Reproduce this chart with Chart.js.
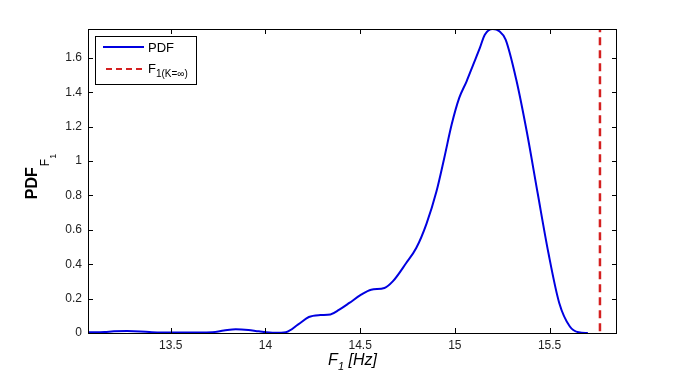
<!DOCTYPE html>
<html>
<head>
<meta charset="utf-8">
<script src="https://cdn.jsdelivr.net/npm/chart.js@4/dist/chart.umd.min.js"></script>
<style>
    html, body { margin: 0; padding: 0; background: #fff; }
    #wrap { width: 683px; height: 384px; }
</style>
</head>
<body>
<div id="wrap"><canvas id="myChart"></canvas></div>
<script>
const freqs = [13.063, 13.15, 13.2, 13.27, 13.34, 13.4, 13.55, 13.72, 13.78, 13.843, 13.91, 13.965,
    14.05, 14.107, 14.173, 14.229, 14.29, 14.343, 14.39, 14.443, 14.505, 14.558, 14.628, 14.672,
    14.743, 14.796, 14.85, 14.903, 14.944, 14.983, 15.023, 15.062, 15.097, 15.132, 15.158, 15.2,
    15.235, 15.268, 15.324, 15.381, 15.437, 15.494, 15.551, 15.607, 15.654, 15.702];
const pdfValues = [0.004, 0.006, 0.01, 0.011, 0.009, 0.005, 0.003, 0.005, 0.014, 0.022, 0.018, 0.01,
    0.002, 0.005, 0.05, 0.093, 0.104, 0.108, 0.136, 0.175, 0.223, 0.252, 0.262, 0.3,
    0.407, 0.494, 0.635, 0.824, 1.018, 1.212, 1.367, 1.464, 1.561, 1.658, 1.735, 1.768,
    1.755, 1.706, 1.474, 1.163, 0.814, 0.465, 0.175, 0.038, 0.004, 0];
const limitFreq = 15.766;
const xTicks = [13.5, 14, 14.5, 15, 15.5];
const yTicks = [0, 0.2, 0.4, 0.6, 0.8, 1, 1.2, 1.4, 1.6];
const seriesNames = ["PDF", "F"];

const pdfPoints = freqs.map((f, i) => ({ x: f, y: pdfValues[i] }));

// frame, inward ticks, legend and axis titles (subscripts need manual text)
const matlabLook = {
    id: "matlabLook",
    afterDraw(chart) {
        const { ctx, chartArea: a, scales: { x, y } } = chart;
        ctx.save();
        ctx.strokeStyle = "#000";
        ctx.lineWidth = 1;
        ctx.strokeRect(a.left + 0.5, a.top + 0.5, a.right - a.left - 1, a.bottom - a.top);
        ctx.beginPath();
        x.ticks.forEach((t) => {
            const px = Math.round(x.getPixelForValue(t.value)) + 0.5;
            ctx.moveTo(px, a.bottom); ctx.lineTo(px, a.bottom - 5);
            ctx.moveTo(px, a.top); ctx.lineTo(px, a.top + 5);
        });
        y.ticks.forEach((t) => {
            const py = Math.round(y.getPixelForValue(t.value)) + 0.5;
            ctx.moveTo(a.left, py); ctx.lineTo(a.left + 5, py);
            ctx.moveTo(a.right, py); ctx.lineTo(a.right - 5, py);
        });
        ctx.stroke();

        // legend
        const lx = a.left + 7, ly = a.top + 7;
        ctx.fillStyle = "#fff";
        ctx.fillRect(lx, ly, 101, 48);
        ctx.strokeRect(lx + 0.5, ly + 0.5, 101, 48);
        ctx.lineWidth = 2;
        ctx.strokeStyle = chart.data.datasets[0].borderColor;
        ctx.beginPath(); ctx.moveTo(lx + 8, ly + 11); ctx.lineTo(lx + 49, ly + 11); ctx.stroke();
        ctx.strokeStyle = chart.data.datasets[1].borderColor;
        ctx.setLineDash([6, 4]);
        ctx.beginPath(); ctx.moveTo(lx + 11, ly + 33); ctx.lineTo(lx + 49, ly + 33); ctx.stroke();
        ctx.setLineDash([]);
        ctx.fillStyle = "#000";
        ctx.textBaseline = "alphabetic";
        ctx.textAlign = "left";
        ctx.font = "13px 'Liberation Sans', Arial, sans-serif";
        ctx.fillText(seriesNames[0], lx + 53, ly + 16);
        ctx.fillText(seriesNames[1], lx + 53, ly + 37);
        const fw = ctx.measureText(seriesNames[1]).width;
        ctx.font = "10px 'Liberation Sans', Arial, sans-serif";
        ctx.fillText("1(K=\u221e)", lx + 53 + fw, ly + 41);

        // x title
        const big = "italic 16px 'Liberation Sans', Arial, sans-serif";
        const small = "italic 11px 'Liberation Sans', Arial, sans-serif";
        ctx.font = big;
        const w1 = ctx.measureText("F").width, w3 = ctx.measureText(" [Hz]").width;
        ctx.font = small;
        const w2 = ctx.measureText("1").width;
        let tx = (a.left + a.right) / 2 - (w1 + w2 + w3) / 2;
        ctx.font = big; ctx.fillText("F", tx, 365);
        ctx.font = small; ctx.fillText("1", tx + w1, 370);
        ctx.font = big; ctx.fillText(" [Hz]", tx + w1 + w2, 365);

        // y title
        ctx.translate(37, (a.top + a.bottom) / 2);
        ctx.rotate(-Math.PI / 2);
        const f1 = "bold 16px 'Liberation Sans', Arial, sans-serif";
        const f2 = "12px 'Liberation Sans', Arial, sans-serif";
        const f3 = "9px 'Liberation Sans', Arial, sans-serif";
        ctx.font = f1; const p1 = ctx.measureText("PDF").width;
        ctx.font = f2; const p2 = ctx.measureText("F").width;
        ctx.font = f3; const p3 = ctx.measureText("1").width;
        let sx = -(p1 + p2 + p3) / 2 + 4;
        ctx.font = f1; ctx.fillText("PDF", sx, 0);
        ctx.font = f2; ctx.fillText("F", sx + p1 + 1, 12);
        ctx.font = f3; ctx.fillText("1", sx + p1 + 1 + p2, 19);
        ctx.restore();
    },
};

const ctx = document.getElementById("myChart");

new Chart(ctx, {
    type: "line",
    data: {
        datasets: [
            {
                label: seriesNames[0],
                data: pdfPoints,
                borderColor: "#0000e0",
                borderWidth: 2,
                pointRadius: 0,
                cubicInterpolationMode: "monotone",
            },
            {
                label: seriesNames[1],
                data: [{ x: limitFreq, y: 0.01 }, { x: limitFreq, y: 1.768 }],
                borderColor: "#d42020",
                borderWidth: 2.5,
                borderDash: [8, 5],
                pointRadius: 0,
            },
        ],
    },
    options: {
        responsive: true,
        maintainAspectRatio: false,
        animation: false,
        layout: {
            padding: { left: 0, right: 66, top: 29, bottom: 0 },
        },
        plugins: {
            legend: { display: false },
            tooltip: { enabled: false },
        },
        scales: {
            x: {
                type: "linear",
                min: 13.063,
                max: 15.856,
                afterBuildTicks: (s) => { s.ticks = xTicks.map((v) => ({ value: v })); },
                afterFit: (s) => { s.height = 51; },
                grid: { display: false, drawTicks: false },
                border: { display: false },
                ticks: {
                    padding: 5,
                    color: "#222",
                    font: { family: "'Liberation Sans', Arial, sans-serif", size: 12 },
                    callback: (v) => String(v),
                },
            },
            y: {
                type: "linear",
                min: 0,
                max: 1.768,
                afterBuildTicks: (s) => { s.ticks = yTicks.map((v) => ({ value: v })); },
                afterFit: (s) => { s.width = 88; },
                grid: { display: false, drawTicks: false },
                border: { display: false },
                ticks: {
                    padding: 6,
                    color: "#222",
                    font: { family: "'Liberation Sans', Arial, sans-serif", size: 12 },
                    callback: (v) => String(v),
                },
            },
        },
    },
    plugins: [matlabLook],
});
</script>
</body>
</html>
